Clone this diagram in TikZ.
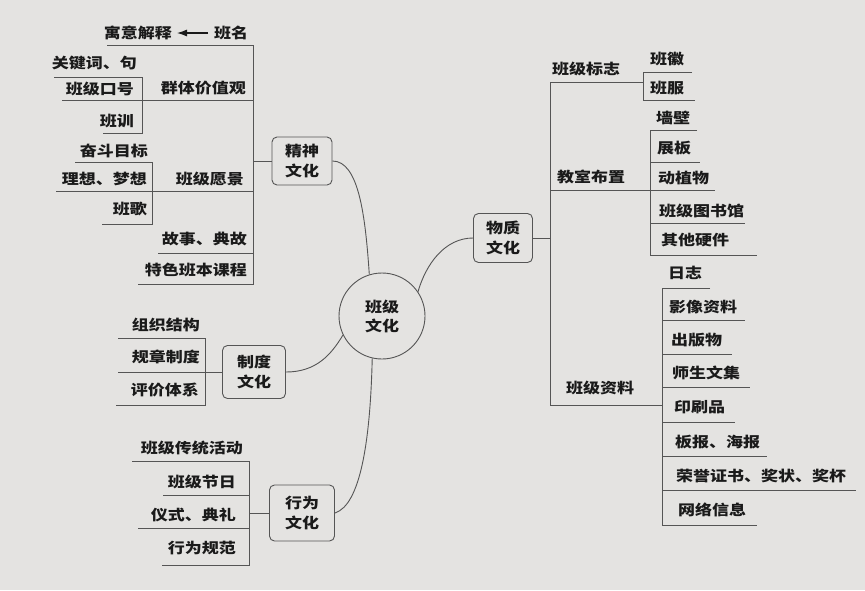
\documentclass[tikz,border=0pt]{standalone}
\usepackage{fontspec}
\usetikzlibrary{arrows.meta}
\newfontfamily\cjk{Noto Sans CJK SC}
\definecolor{paper}{HTML}{E4E3E1}
\definecolor{ink}{HTML}{1A1A1A}
\definecolor{ln}{HTML}{555555}
\newcommand\tx[1]{\scalebox{1}[0.85]{#1}}
\begin{document}
\begin{tikzpicture}[x=1pt,y=-1pt,
  lbl/.style={inner sep=0pt, text=ink, font=\cjk\bfseries\fontsize{17}{20}\selectfont},
  catbox/.style={draw=ln, line width=0.9pt, rounded corners=5pt, fill=paper, align=center,
    inner sep=0pt, text=ink, font=\cjk\bfseries\fontsize{17}{20}\selectfont},
  hub/.style={draw=ln, line width=0.9pt, circle, fill=paper, align=center, inner sep=0pt,
    minimum size=86pt, text=ink, font=\cjk\bfseries\fontsize{17}{19}\selectfont},
  wire/.style={draw=ln, line width=0.9pt},
]
\useasboundingbox (0,0) rectangle (865,590);
\fill[paper] (0,0) rectangle (865,590);

% ---------- centre ----------
\node[hub] (bj) at (382,316) {\tx{班级}\\\tx{文化}};

% ---------- category boxes ----------
\node[catbox, minimum width=60pt, minimum height=48pt] (js) at (302,161) {\tx{精神}\\\tx{文化}};
\node[catbox, minimum width=59pt, minimum height=49pt] (wz) at (503,238) {\tx{物质}\\\tx{文化}};
\node[catbox, minimum width=63pt, minimum height=53pt] (zd) at (254,372) {\tx{制度}\\\tx{文化}};
\node[catbox, minimum width=65pt, minimum height=56pt] (xw) at (302,513) {\tx{行为}\\\tx{文化}};

% ---------- curved connectors ----------
\draw[wire] (js.east) .. controls +(26,0) and +(-4,-60) .. (bj.107);
\draw[wire] (wz.west) .. controls +(-28,0) and +(8,-28) .. (bj.34);
\draw[wire] (zd.east) .. controls +(30,0) and +(-12,20) .. (bj.206);
\draw[wire] (bj.257) .. controls +(-2,85) and +(25,-8) .. (xw.east);

% ---------- 精神文化 ----------
\node[lbl, anchor=east] (yy) at (172,33) {\tx{寓意解释}};
\node[lbl, anchor=west] (bm) at (214,33) {\tx{班名}};
\draw[draw=ink, line width=1.1pt, -{Latex[length=10pt,width=7pt]}] ([xshift=-6pt]bm.west) -- ([xshift=5pt]yy.east);
\node[lbl, anchor=east] (qt) at (246,88) {\tx{群体价值观}};
\node[lbl, anchor=east] (gj) at (137,63) {\tx{关键词、句}};
\node[lbl, anchor=east] (kh) at (134,89) {\tx{班级口号}};
\node[lbl, anchor=east] (bx) at (134,121) {\tx{班训}};
\node[lbl, anchor=east] (yj) at (244,179) {\tx{班级愿景}};
\node[lbl, anchor=east] (fd) at (148,151) {\tx{奋斗目标}};
\node[lbl, anchor=east] (lx) at (147,179) {\tx{理想、梦想}};
\node[lbl, anchor=east] (bg) at (147,209) {\tx{班歌}};
\node[lbl, anchor=east] (gs) at (247,239) {\tx{故事、典故}};
\node[lbl, anchor=east] (ts) at (247,270) {\tx{特色班本课程}};
\coordinate (jsv) at (253,161);
\draw[wire] (107,45) -- (253,45) -- (253,284) -- (138,284);
\draw[wire] (js.west) -- (jsv);
\draw[wire] (62,100) -- (253,100);
\draw[wire] (54,77) -- (142,77) -- (142,133) -- (103,133);
\draw[wire] (56,191) -- (253,191);
\draw[wire] (75,162) -- (152,162) -- (152,224) -- (102,224);
\draw[wire] (158,253) -- (253,253);

% ---------- 制度文化 ----------
\node[lbl, anchor=east] (zz) at (200,325) {\tx{组织结构}};
\node[lbl, anchor=east] (gz) at (200,357) {\tx{规章制度}};
\node[lbl, anchor=east] (pj) at (199,390) {\tx{评价体系}};
\coordinate (zdl) at (118,372);
\draw[wire] (118,338) -- (205,338) -- (205,405) -- (116,405);
\draw[wire] (zdl) -- (zd.west);

% ---------- 行为文化 ----------
\node[lbl, anchor=east] (ct) at (243,448) {\tx{班级传统活动}};
\node[lbl, anchor=east] (jr) at (236,482) {\tx{班级节日}};
\node[lbl, anchor=east] (ys) at (236,515) {\tx{仪式、典礼}};
\node[lbl, anchor=east] (gf) at (236,548) {\tx{行为规范}};
\coordinate (xwv) at (249,513);
\draw[wire] (132,461) -- (249,461) -- (249,565) -- (162,565);
\draw[wire] (163,495) -- (249,495);
\draw[wire] (138,528) -- (249,528);
\draw[wire] (xw.west) -- (xwv);

% ---------- 物质文化 ----------
\coordinate (wzv) at (550,238);
\draw[wire] (wz.east) -- (wzv);
\draw[wire] (643,82) -- (550,82) -- (550,405) -- (662,405);
\node[lbl, anchor=west] (bz) at (552,69) {\tx{班级标志}};
\node[lbl, anchor=west] (bh) at (650,59) {\tx{班徽}};
\node[lbl, anchor=west] (bf) at (650,88) {\tx{班服}};
\draw[wire] (692,72) -- (643,72) -- (643,100) -- (695,100);

\node[lbl, anchor=west] (js2) at (557,177) {\tx{教室布置}};
\node[lbl, anchor=west] (qb) at (656,118) {\tx{墙壁}};
\node[lbl, anchor=west] (zb) at (657,148) {\tx{展板}};
\node[lbl, anchor=west] (dz) at (658,178) {\tx{动植物}};
\node[lbl, anchor=west] (ts2) at (659,211) {\tx{班级图书馆}};
\node[lbl, anchor=west] (qt2) at (661,240) {\tx{其他硬件}};
\draw[wire] (550,190) -- (715,190);
\draw[wire] (697,130) -- (650,130) -- (650,255) -- (757,255);
\draw[wire] (650,162) -- (700,162);
\draw[wire] (650,223) -- (745,223);

\node[lbl, anchor=west] (zl) at (566,388) {\tx{班级资料}};
\node[lbl, anchor=west] (rz) at (668,273) {\tx{日志}};
\node[lbl, anchor=west] (yx) at (669,307) {\tx{影像资料}};
\node[lbl, anchor=west] (cb) at (671,340) {\tx{出版物}};
\node[lbl, anchor=west] (ss) at (672,373) {\tx{师生文集}};
\node[lbl, anchor=west] (ys2) at (674,407) {\tx{印刷品}};
\node[lbl, anchor=west] (bb) at (675,442) {\tx{板报、海报}};
\node[lbl, anchor=west] (ry) at (676,476) {\tx{荣誉证书、奖状、奖杯}};
\node[lbl, anchor=west] (wl) at (678,510) {\tx{网络信息}};
\draw[wire] (710,288) -- (662,288) -- (662,525) -- (757,525);
\draw[wire] (662,320) -- (745,320);
\draw[wire] (662,354) -- (732,354);
\draw[wire] (662,387) -- (750,387);
\draw[wire] (662,422) -- (735,422);
\draw[wire] (662,456) -- (767,456);
\draw[wire] (662,490) -- (856,490);
\end{tikzpicture}
\end{document}
